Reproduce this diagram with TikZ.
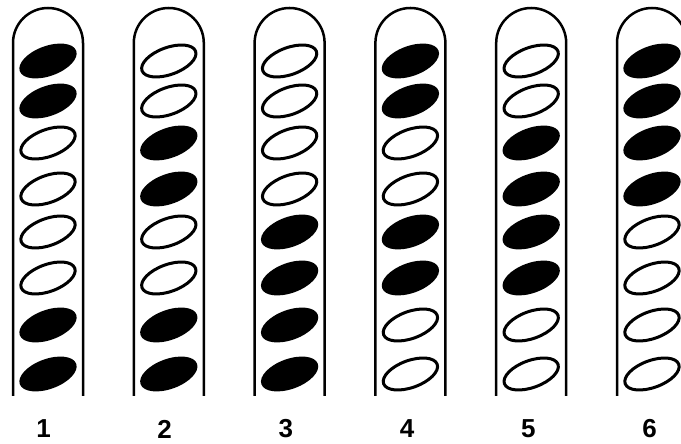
\documentclass[tikz,border=0pt]{standalone}
\usepackage{fontspec}
\setmainfont{Liberation Sans}
\usepackage{tikz}
\usetikzlibrary{positioning}

\tikzset{
  tube/.style={line width=2.5pt},
  bead/.style={line width=3pt},
  beadfull/.style={fill=black},
  numlabel/.style={font=\bfseries\fontsize{26}{28}\selectfont, inner sep=0pt}
}

\begin{document}
\begin{tikzpicture}[x=1pt,y=1pt]
  \useasboundingbox (0,0) rectangle (681,444);

  \def\W{120.8}
  \def\R{35}
  \def\ybot{48}
  \def\ytop{401}

  % bead pattern, top to bottom, 1 = filled
  \foreach \p [count=\i from 0] in {
    {1,1,0,0,0,0,1,1},
    {0,0,1,1,0,0,1,1},
    {0,0,0,0,1,1,1,1},
    {1,1,0,0,1,1,0,0},
    {0,0,1,1,1,1,0,0},
    {1,1,1,1,0,0,0,0}} {
    \pgfmathsetmacro{\cx}{48+\i*\W}
    \draw[tube] (\cx-\R,\ybot) -- (\cx-\R,\ytop)
      arc (180:0:\R) -- (\cx+\R,\ybot);

    \foreach \f [count=\k] in \p {
      \pgfmathsetmacro{\ey}{{383,343,301,255,212,166,119,70}[\k-1]}
      \ifnum\f=1
        \fill[beadfull] (\cx,\ey) ellipse[x radius=30, y radius=15, rotate=20];
      \else
        \draw[bead] (\cx,\ey) ellipse[x radius=28.5, y radius=13.5, rotate=20];
      \fi
    }
  }

  \foreach \i in {1,...,6} {
    \pgfmathsetmacro{\lx}{43.5+(\i-1)*121.2}
    \node[numlabel] (lab\i) at (\lx,15) {\i};
  }

\end{tikzpicture}
\end{document}
